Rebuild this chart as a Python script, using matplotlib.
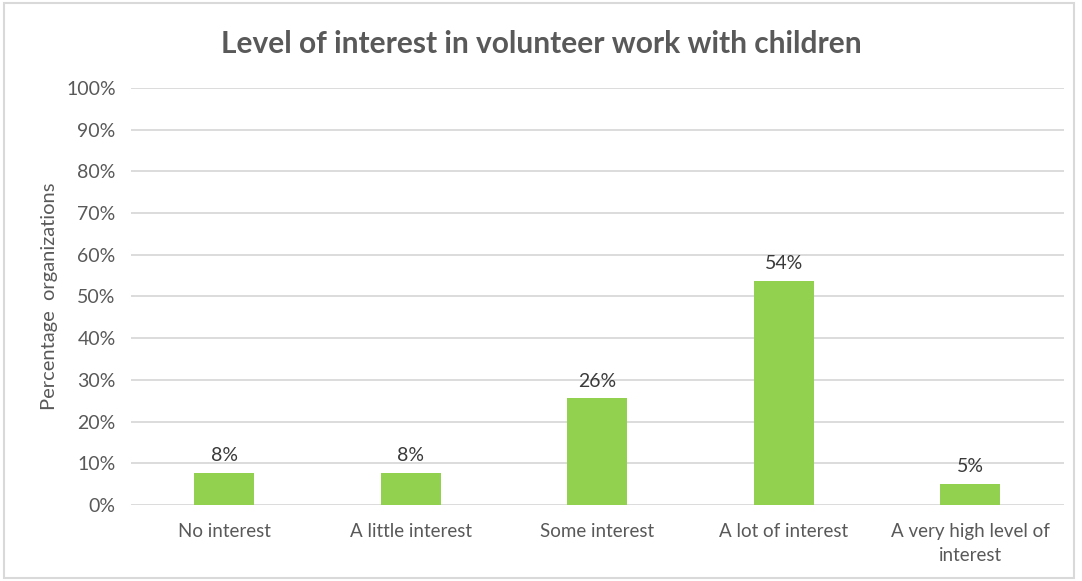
import matplotlib.pyplot as plt
from matplotlib.patches import Rectangle

plt.rcParams['font.family'] = ['Lato', 'DejaVu Sans']

categories = ['No interest', 'A little interest', 'Some interest',
              'A lot of interest', 'A very high level of\ninterest']
percentages = [7.7, 7.7, 25.6, 53.8, 5.1]
y_ticks = [0, 10, 20, 30, 40, 50, 60, 70, 80, 90, 100]

bar_color = '#92D050'
text_color = '#595959'
grid_color = '#D9D9D9'

fig = plt.figure(figsize=(10.82, 5.81), dpi=100)
ax = fig.add_axes([0.121, 0.131, 0.862, 0.7175])

x = range(len(categories))
ax.bar(x, percentages, width=0.32, color=bar_color, zorder=3)

for xi, v in zip(x, percentages):
    ax.text(xi, v + 2.0, f'{v:.0f}%', ha='center', va='bottom',
            fontsize=14, color='#3a3a3a')

ax.set_xlim(-0.5, len(categories) - 0.5)
ax.set_ylim(0, 100)
ax.set_yticks(y_ticks)
ax.set_yticklabels([f'{t}%' for t in y_ticks])
ax.set_xticks(list(x))
ax.set_xticklabels(categories, linespacing=1.5)
ax.tick_params(length=0, labelsize=13.5, labelcolor=text_color)
ax.tick_params(axis='y', labelsize=14, pad=11)
ax.tick_params(axis='x', pad=13)
ax.yaxis.grid(True, color=grid_color, linewidth=1.3, zorder=0)
for s in ax.spines.values():
    s.set_visible(False)

ax.set_ylabel('Percentage  organizations', fontsize=14.5, color=text_color, labelpad=6)

fig.text(0.5, 0.925, 'Level of interest in volunteer work with children',
         ha='center', va='center', fontsize=21.5, fontweight='bold', color=text_color)

# light frame round the whole chart
fig.patches.append(Rectangle((0.004, 0.005), 0.989, 0.989, transform=fig.transFigure,
                             fill=False, edgecolor=grid_color, linewidth=1.5))

fig.savefig('out.png', dpi=100)
